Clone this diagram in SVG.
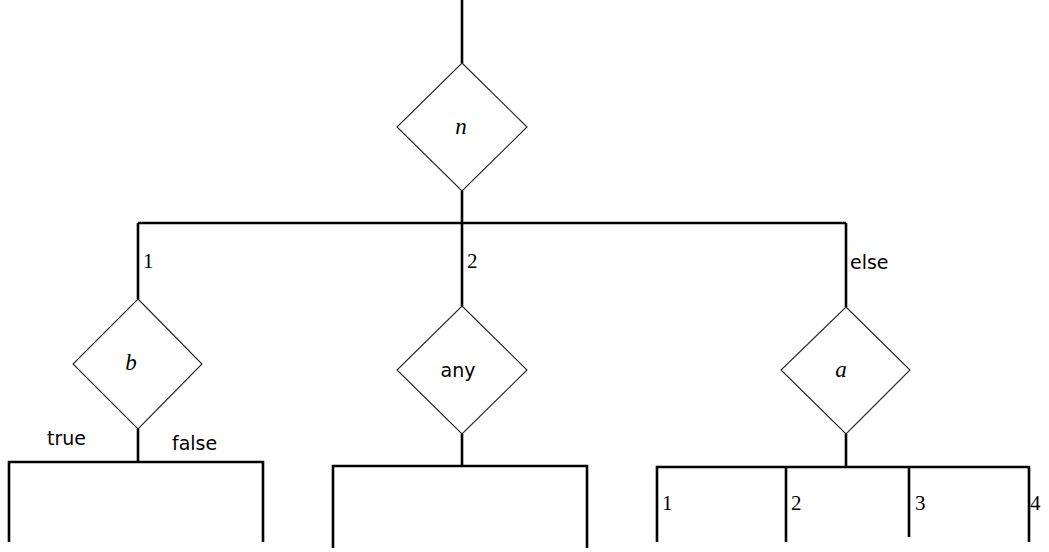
<svg xmlns="http://www.w3.org/2000/svg" width="1049" height="552" viewBox="0 0 1049 552">
<style>
.c{fill:none;stroke:#000;stroke-width:2.6;stroke-linecap:butt}
.d{fill:#fff;stroke:#222;stroke-width:1.1}
.m{font-family:"Liberation Serif",serif;font-style:italic;font-size:23px;text-anchor:middle}
.s{font-family:"DejaVu Sans","Liberation Sans",sans-serif;font-size:19px}
.n{font-family:"Liberation Serif",serif;font-size:21px}
</style>
<rect width="1049" height="552" fill="#fff"/>
<g id="connectors">
<path class="c" d="M462 0V63M462 191V223M138 223H846M138 223V299M462 223V306M846 223V307"/>
<path class="c" d="M138 429V462M9 542V462H263V542"/>
<path class="c" d="M462 434V466M333 548V466H587V548"/>
<path class="c" d="M846 434V467M657 542V467H1029V542M786 467V542M909 467V537"/>
</g>
<g id="node-n"><polygon class="d" points="462,63 527,127 462,191 397,127"/><text class="m" x="461" y="134">n</text></g>
<g id="node-b"><polygon class="d" points="138,299 202,364 138,429 73,364"/><text class="m" x="131" y="370">b</text></g>
<g id="node-any"><polygon class="d" points="462,306 527,370 462,434 397,370"/><text class="s" x="458" y="377" text-anchor="middle">any</text></g>
<g id="node-a"><polygon class="d" points="846,307 910,370 846,434 781,370"/><text class="m" x="841" y="377">a</text></g>
<g id="labels">
<text class="n" x="143" y="268">1</text>
<text class="n" x="467" y="268">2</text>
<text class="s" x="850" y="269">else</text>
<text class="s" x="47" y="445">true</text>
<text class="s" x="172" y="450">false</text>
<text class="n" x="662" y="510">1</text>
<text class="n" x="791" y="510">2</text>
<text class="n" x="915" y="510">3</text>
<text class="n" x="1030" y="510">4</text>
</g>
</svg>
